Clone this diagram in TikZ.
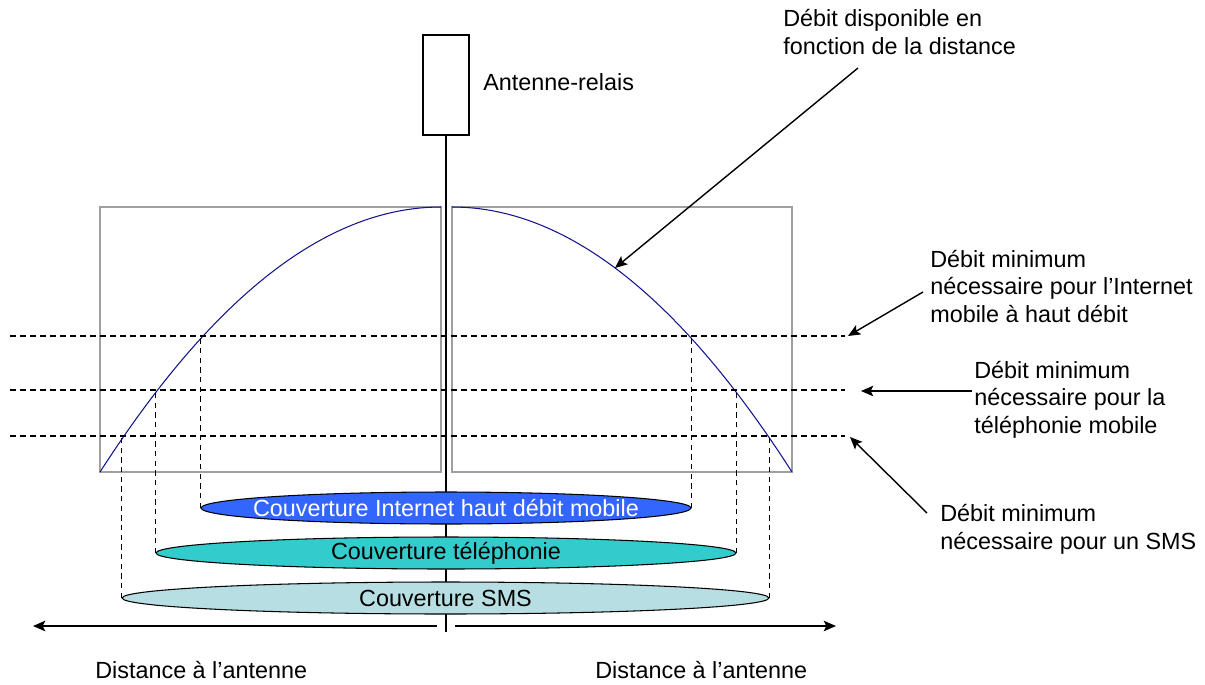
\documentclass[tikz,border=0pt]{standalone}
\usepackage{fontspec}
\setmainfont{Liberation Sans}
\usetikzlibrary{shapes.geometric,arrows.meta}
\definecolor{courbeBleu}{RGB}{20,20,140}
\definecolor{couvInternet}{RGB}{51,102,255}
\definecolor{couvTel}{RGB}{51,204,204}
\definecolor{couvSms}{RGB}{183,222,226}

\begin{document}
\begin{tikzpicture}
[x=0.02cm,y=-0.02cm,
 every node/.style={font=\fontsize{13.3}{15.6}\selectfont},
 textDecorate/.style={inner sep=0pt,align=left,anchor=base west},
 boxDecorate/.style={draw=gray!75,line width=0.6pt},
 curveDecorate/.style={draw=courbeBleu,line width=0.6pt},
 dashDecorate/.style={dash pattern=on 3.4pt off 2.3pt,line width=0.7pt},
 dropDecorate/.style={dash pattern=on 3pt off 2.5pt,line width=0.5pt},
 arrowDecorate/.style={-{Stealth[length=7pt,width=6pt,inset=1.5pt]},line width=0.8pt},
 coverDecorate/.style={shape=ellipse,draw,line width=0.6pt,inner sep=0pt,minimum height=0.64cm}]
\useasboundingbox (0,0) rectangle (1205,684);

%% antenna and mast
\node (antenne) at (446,85) [draw,line width=0.6pt,minimum width=0.92cm,minimum height=2cm,inner sep=0pt] {};
\coordinate (piedMat) at (446,632);
\draw[line width=0.8pt] (antenne.south) -- (piedMat);
\node (nomAntenne) at (483,90) [textDecorate] {Antenne-relais};

%% frames and available rate
\draw[boxDecorate] (100,207) rectangle (441,472);
\draw[boxDecorate] (452,207) rectangle (792,472);
\draw[curveDecorate] plot[domain=100:441,samples=50] (\x,{207+265*((441-\x)/341)^2});
\draw[curveDecorate] plot[domain=452:792,samples=50] (\x,{207+265*((\x-452)/340)^2});

%% minimum rate thresholds
\foreach \nodename/\y in {seuilInternet/336, seuilTel/390, seuilSms/436}
{
  \coordinate (\nodename W) at (10,\y);
  \coordinate (\nodename E) at (845,\y);
  \draw[dashDecorate] (\nodename W) -- (\nodename E);
}

%% coverage
\node (covInternet) at (446,508) [coverDecorate,fill=couvInternet,minimum width=9.8cm] {};
\node (covTel) at (446,553) [coverDecorate,fill=couvTel,minimum width=11.6cm] {};
\node (covSms) at (445.5,598) [coverDecorate,fill=couvSms,minimum width=12.94cm] {};
\node (txtInternet) at (covInternet) [text=white] {Couverture Internet haut débit mobile};
\node (txtTel) at (covTel) {Couverture téléphonie};
\node (txtSms) at (covSms) {Couverture SMS};
\foreach \seuil/\cov in {seuilInternet/covInternet, seuilTel/covTel, seuilSms/covSms}
{
  \draw[dropDecorate] (\cov.west) -- (\cov.west |- \seuil W);
  \draw[dropDecorate] (\cov.east) -- (\cov.east |- \seuil W);
}

%% distance axis
\coordinate (axeGo) at (437,626);
\coordinate (axeG) at (33,626);
\coordinate (axeDo) at (455,626);
\coordinate (axeD) at (836,626);
\draw[arrowDecorate] (axeGo) -- (axeG);
\draw[arrowDecorate] (axeDo) -- (axeD);
\node (distG) at (95,678) [textDecorate] {Distance à l’antenne};
\node (distD) at (595,678) [textDecorate] {Distance à l’antenne};

%% labels (base = last line)
\node (lblDebit) at (783,54) [textDecorate] {Débit disponible en\\fonction de la distance};
\node (lblInternet) at (930,322) [textDecorate] {Débit minimum\\nécessaire pour l’Internet\\mobile à haut débit};
\node (lblTel) at (974,433) [textDecorate] {Débit minimum\\nécessaire pour la\\téléphonie mobile};
\node (lblSms) at (940,549) [textDecorate] {Débit minimum\\nécessaire pour un SMS};
\foreach \nodename/\xa/\ya/\xb/\yb in {
  debit/858/68/615/268, internet/923/292/848/336, tel/972/391/861/391, sms/927/513/850/437}
{
  \coordinate (\nodename Pied) at (\xa,\ya);
  \coordinate (\nodename Pointe) at (\xb,\yb);
  \draw[arrowDecorate] (\nodename Pied) -- (\nodename Pointe);
}
\end{tikzpicture}
\end{document}
